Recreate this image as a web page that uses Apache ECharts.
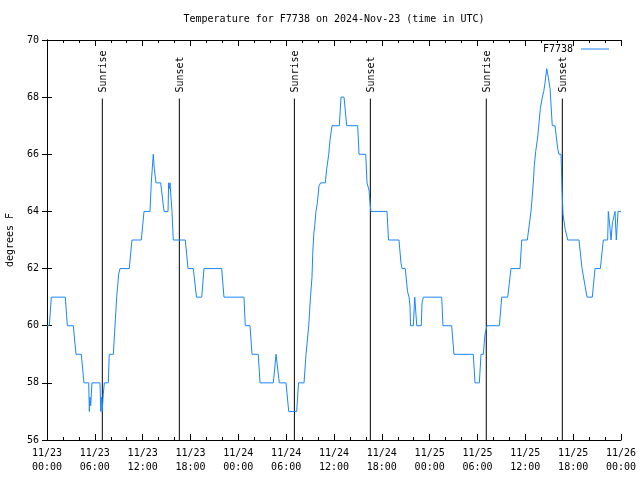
<!DOCTYPE html>
<html>
<head>
<meta charset="utf-8">
<script src="https://cdn.jsdelivr.net/npm/echarts@6/dist/echarts.min.js"></script>
<style>html,body{margin:0;padding:0;background:#fff;}#c{width:640px;height:480px;}</style>
</head>
<body>
<div id="c"></div>
<script>
// hours since 2024-11-23 00:00 UTC
const hours = [0,0.29,0.54,2.30,2.55,3.30,3.64,4.30,4.64,5.23,
5.31,5.39,5.48,5.64,6.65,6.74,6.84,6.92,7.06,7.19,
7.69,7.81,8.32,8.53,8.74,8.99,9.16,10.32,10.66,11.83,
12.17,12.92,13.08,13.33,13.46,13.67,14.26,14.68,15.18,15.26,
15.37,15.43,15.55,15.68,15.84,17.35,17.69,18.35,18.75,19.41,
19.69,21.91,22.20,24.71,24.87,25.46,25.72,26.50,26.72,28.39,
28.73,29.14,29.98,30.32,31.32,31.55,32.24,32.49,32.74,32.83,
33.05,33.24,33.33,33.46,33.58,33.74,33.91,34.12,34.33,34.91,
35.09,35.34,35.50,35.75,36.67,36.88,37.26,37.59,38.97,39.14,
39.98,40.14,40.39,40.55,40.62,42.65,42.84,44.15,44.40,44.53,
44.94,45.22,45.41,45.53,45.60,45.95,46.13,46.20,46.38,46.95,
47.04,47.20,49.51,49.67,50.76,51.05,53.47,53.69,54.23,54.44,
54.73,54.94,55.19,56.74,57.04,57.79,58.20,59.33,59.55,60.25,
60.71,60.80,61.00,61.12,61.30,61.55,61.72,61.88,62.13,62.31,
62.47,62.68,62.88,63.10,63.38,63.72,63.85,64.06,64.22,64.48,
64.60,64.73,64.98,65.32,66.73,67.11,67.36,67.74,68.40,68.74,
69.41,69.78,70.33,70.41,70.56,70.75,70.92,71.09,71.25,71.41,
71.63,72.0];
const temps = [60,60,61,61,60,60,59,59,58,58,
57,57.5,57.2,58,58,57,57.5,57,57.6,58,
58,59,59,60,61,61.8,62,62,63,63,
64,64,65,66,65.5,65,65,64,64,65,
64.8,65,64.5,64,63,63,62,62,61,61,
62,62,61,61,60,60,59,59,58,58,
59,58,58,57,57,58,58,59,59,60,
61,61.7,62.5,63.2,63.5,64,64.3,64.9,65,65,
65.5,66,66.5,67,67,68,68,67,67,66,
66,65,64.75,64.7,64,64,63,63,62.2,62,
62,61.2,61,60.7,60,60,61,61,60,60,
60.8,61,61,60,60,59,59,58,58,59,
59,59.7,60,60,61,61,62,62,63,63,
64,64.3,65,65.6,66.1,66.6,67.1,67.6,68,68.2,
68.5,69,68.7,68.3,67,67,66.7,66.2,66,66,
64.8,63.9,63.4,63,63,62,62,61,61,62,
62,63,63,64,63.6,63,63.6,63.8,64,63,
64,64];
const markerHours = [6.94, 16.6, 31.03, 40.56, 55.1, 64.64];
const markerLabels = ['Sunrise','Sunset','Sunrise','Sunset','Sunrise','Sunset'];
const xTickLabels = ['11/23\n00:00','11/23\n06:00','11/23\n12:00','11/23\n18:00',
  '11/24\n00:00','11/24\n06:00','11/24\n12:00','11/24\n18:00',
  '11/25\n00:00','11/25\n06:00','11/25\n12:00','11/25\n18:00','11/26\n00:00'];
const seriesName = 'F7738';
const titleText = 'Temperature for F7738 on 2024-Nov-23 (time in UTC)';

const FONT = 'DejaVu Sans Mono';
const chart = echarts.init(document.getElementById('c'));
const lineData = hours.map((h, i) => [h, temps[i]]);
const markerData = markerHours.map(h => [h, 67.95]);
const axisLineStyle = {show: true, lineStyle: {color: '#000', width: 1}};
const xCommon = {type: 'value', min: 0, max: 72, interval: 6, splitLine: {show: false},
  axisLine: axisLineStyle, axisTick: {show: true, inside: true, length: 6, lineStyle: {color: '#000'}},
  minorTick: {show: true, splitNumber: 3, length: 3, lineStyle: {color: '#000'}}};
const yCommon = {type: 'value', min: 56, max: 70, interval: 2, splitLine: {show: false},
  axisLine: axisLineStyle, axisTick: {show: true, inside: true, length: 5, lineStyle: {color: '#000'}}};
chart.setOption({
  animation: false,
  backgroundColor: '#fff',
  title: {text: titleText, left: 334, top: 14, textAlign: 'center', padding: 0,
    textStyle: {fontFamily: FONT, fontSize: 10, fontWeight: 'normal', color: '#000'}},
  legend: {data: [{name: seriesName, icon: 'rect'}], right: 31, top: 44, padding: 0, align: 'right', itemWidth: 28, itemHeight: 1,
    textStyle: {fontFamily: FONT, fontSize: 10, color: '#000', padding: [0, 3, 0, 0]}},
  grid: {left: 47, right: 19, top: 40, bottom: 40, containLabel: false, outerBoundsMode: 'none'},
  xAxis: [
    Object.assign({}, xCommon, {position: 'bottom',
      axisLabel: {show: true, color: '#000', fontFamily: FONT, fontSize: 10, lineHeight: 14, margin: 6,
        formatter: v => xTickLabels[Math.round(v / 6)]}}),
    Object.assign({}, xCommon, {position: 'top', axisLabel: {show: false}})
  ],
  yAxis: [
    Object.assign({}, yCommon, {position: 'left', name: 'degrees F', nameLocation: 'middle', nameRotate: 90, nameGap: 32,
      nameTextStyle: {fontFamily: FONT, fontSize: 10, color: '#000'},
      axisLabel: {show: true, color: '#000', fontFamily: FONT, fontSize: 10, margin: 8}}),
    Object.assign({}, yCommon, {position: 'right', axisLabel: {show: false}})
  ],
  series: [
    {type: 'custom', xAxisIndex: 0, yAxisIndex: 0, data: markerData, silent: true, z: 1,
      renderItem: function (params, api) {
        const top = api.coord([api.value(0), api.value(1)]);
        const bot = api.coord([api.value(0), 56]);
        return {type: 'group', children: [
          {type: 'line', shape: {x1: top[0], y1: top[1], x2: bot[0], y2: bot[1]}, style: {stroke: '#000', lineWidth: 1}},
          {type: 'text', x: top[0] + 1, y: top[1] - 6, rotation: Math.PI / 2,
            style: {text: markerLabels[params.dataIndex], font: '10px "' + FONT + '"', fill: '#000', align: 'left', verticalAlign: 'middle'}}
        ]};
      }},
    {type: 'line', name: seriesName, xAxisIndex: 0, yAxisIndex: 0, data: lineData, symbol: 'none', z: 3,
      lineStyle: {color: '#1a85ff', width: 1}, itemStyle: {color: '#1a85ff'}}
  ]
});
</script>
</body>
</html>
